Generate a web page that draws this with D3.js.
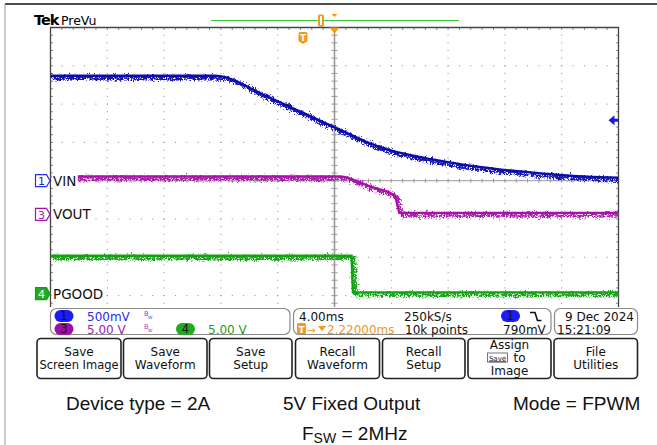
<!DOCTYPE html>
<html>
<head>
<meta charset="utf-8">
<script src="https://cdn.jsdelivr.net/npm/d3@7"></script>
<style>
  html, body { margin: 0; padding: 0; background: #fff; }
  svg { display: block; }
</style>
</head>
<body>
<svg id="scope" width="657" height="445"></svg>
<script>
// ---- acquisition data (time in ms relative to trigger, volts) ----
const ch1Time = [-17.78, -6.2, -5.4, -4.5, -3.0, -1.5, 0, 1.5, 3.0, 4.5, 6.0, 7.5, 9.0, 10.5, 12.0, 14.0, 16.0, 18.0, 20.0, 22.22];
const ch1Volts = [1.37, 1.37, 1.35, 1.28, 1.14, 1.014, 0.885, 0.757, 0.63, 0.505, 0.405, 0.335, 0.28, 0.232, 0.19, 0.145, 0.108, 0.075, 0.052, 0.04];

const ch3Time = [-17.78, 2.6, 3.0, 3.8, 4.7, 5.9, 6.5, 6.65, 6.78, 22.22];
const ch3Volts = [4.95, 4.95, 4.85, 4.35, 3.65, 3.0, 2.45, 1.2, 0.2, 0.2];

const ch4Time = [-17.78, 3.42, 3.52, 22.22];
const ch4Volts = [4.96, 4.96, 0.17, 0.17];

// channel settings
const channelNames = ["VIN", "VOUT", "PGOOD"];
const channelNums = ["1", "3", "4"];
const voltsPerDiv = [0.5, 5.0, 5.0];
const groundDivs = [4.0, 4.88, 6.95];        // ground marker, divisions below top
const channelColors = ["#0c0ca8", "#a812a8", "#14a014"];
const channelHalo = ["#4848d8", "#c850c8", "#48c448"];

// horizontal settings
const timePerDiv = 4.0;       // ms/div
const triggerDelay = 2.22;    // ms, centre of screen after trigger
const triggerLevel = 0.79;    // V on ch1

// readout texts
const readoutRow1 = ["500mV", "4.00ms", "250kS/s", "790mV"];
const readoutRow2 = ["5.00 V", "5.00 V", "2.22000ms", "10k points"];
const dateText = ["9 Dec  2024", "15:21:09"];
const buttonLabels = [["Save", "Screen Image"], ["Save", "Waveform"], ["Save", "Setup"],
                      ["Recall", "Waveform"], ["Recall", "Setup"], ["Assign", "to", "Image"],
                      ["File", "Utilities"]];
const captionTexts = ["Device type = 2A", "5V Fixed Output", "Mode = FPWM"];

// ---- geometry ----
const svg = d3.select("#scope");
const L = 50.5, R = 618.5, T = 27.5;
const divW = (R - L) / 10, divH = 38.3;
const visibleBottom = 307;
const B8 = T + 8 * divH;
const uiFont = "'DejaVu Sans', sans-serif";

const x = d3.scaleLinear()
  .domain([triggerDelay - 5 * timePerDiv, triggerDelay + 5 * timePerDiv])
  .range([L, R]);
const yScales = voltsPerDiv.map((v, i) =>
  d3.scaleLinear().domain([-(8 - groundDivs[i]) * v, groundDivs[i] * v]).range([B8, T]));

const defs = svg.append("defs");
const f = defs.append("filter").attr("id", "jitter")
  .attr("filterUnits", "userSpaceOnUse").attr("x", 0).attr("y", 0)
  .attr("width", 657).attr("height", 445);
f.append("feTurbulence").attr("type", "turbulence").attr("baseFrequency", "0.95 0.4")
  .attr("numOctaves", 2).attr("seed", 7).attr("result", "t");
f.append("feDisplacementMap").attr("in", "SourceGraphic").attr("in2", "t")
  .attr("scale", 9).attr("xChannelSelector", "R").attr("yChannelSelector", "G");
defs.append("clipPath").attr("id", "plotClip").append("rect")
  .attr("x", L).attr("y", T).attr("width", R - L).attr("height", visibleBottom - T);

// outer frame
svg.append("line").attr("x1", 5).attr("x2", 657).attr("y1", 4).attr("y2", 4)
  .attr("stroke", "#111").attr("stroke-width", 1.5);
svg.append("line").attr("x1", 5).attr("x2", 5).attr("y1", 4).attr("y2", 445)
  .attr("stroke", "#999").attr("stroke-width", 1);

// header
svg.append("text").attr("x", 34).attr("y", 25).attr("font-family", uiFont)
  .attr("font-weight", "bold").attr("font-size", 14.5).attr("letter-spacing", -1).text("Tek");
svg.append("text").attr("x", 61).attr("y", 25).attr("font-family", uiFont)
  .attr("font-size", 12.5).text("PreVu");

// record view bar
svg.append("line").attr("x1", 211).attr("x2", 459).attr("y1", 20.5).attr("y2", 20.5)
  .attr("stroke", "#3cc83c").attr("stroke-width", 1.2);
svg.append("rect").attr("x", 318).attr("y", 14.5).attr("width", 6).attr("height", 12)
  .attr("rx", 1.5).attr("fill", "#f39a1a");
svg.append("rect").attr("x", 320).attr("y", 16).attr("width", 2).attr("height", 9).attr("fill", "#fff");
svg.append("path").attr("d", `M${x(triggerDelay) - 3},14 h6 l-3,3 Z`).attr("fill", "#f39a1a");

// ---- graticule ----
const grid = svg.append("g");
const dot = (gx, gy, c = "#8a8a8a") => grid.append("rect").attr("x", gx - 0.5).attr("y", gy - 0.5)
  .attr("width", 1).attr("height", 1).attr("fill", c);
for (let i = 1; i < 10; i++) {
  if (i === 5) continue;
  const gx = L + i * divW;
  for (let k = 1; k <= 40; k++) { const gy = T + k * divH / 5; if (gy < visibleBottom) dot(gx, gy); }
}
for (let j = 1; j < 8; j++) {
  if (j === 4) continue;
  const gy = T + j * divH;
  for (let k = 1; k < 50; k++) dot(L + k * divW / 5, gy);
}
// centre lines
const cx = L + 5 * divW, cy = T + 4 * divH;
grid.append("line").attr("x1", cx).attr("x2", cx).attr("y1", T).attr("y2", visibleBottom)
  .attr("stroke", "#9a9a9a").attr("stroke-width", 1.6);
grid.append("line").attr("x1", L).attr("x2", R).attr("y1", cy).attr("y2", cy)
  .attr("stroke", "#9a9a9a").attr("stroke-width", 1);
for (let k = 1; k < 50; k++) grid.append("line").attr("x1", L + k * divW / 5).attr("x2", L + k * divW / 5)
  .attr("y1", cy - 2).attr("y2", cy + 2).attr("stroke", "#9a9a9a");
for (let k = 1; k < 40; k++) { const gy = T + k * divH / 5; if (gy < visibleBottom)
  grid.append("line").attr("x1", cx - 3).attr("x2", cx + 3).attr("y1", gy).attr("y2", gy).attr("stroke", "#9a9a9a"); }
// border ticks
for (let k = 1; k < 50; k++) {
  const gx = L + k * divW / 5;
  grid.append("line").attr("x1", gx).attr("x2", gx).attr("y1", T).attr("y2", T + 2.5).attr("stroke", "#8a8a8a");
}
for (let k = 1; k < 40; k++) {
  const gy = T + k * divH / 5; if (gy >= visibleBottom) continue;
  grid.append("line").attr("x1", L).attr("x2", L + 2.5).attr("y1", gy).attr("y2", gy).attr("stroke", "#8a8a8a");
  grid.append("line").attr("x1", R - 2.5).attr("x2", R).attr("y1", gy).attr("y2", gy).attr("stroke", "#8a8a8a");
}
// frame
svg.append("path").attr("d", `M${L},${visibleBottom} V${T} H${R} V${visibleBottom}`)
  .attr("fill", "none").attr("stroke", "#444").attr("stroke-width", 1.3);

// ---- traces ----
const traces = svg.append("g").attr("clip-path", "url(#plotClip)");
const series = [[ch1Time, ch1Volts], [ch3Time, ch3Volts], [ch4Time, ch4Volts]];
series.forEach(([ts, vs], i) => {
  const pts = ts.map((t, k) => [x(t), yScales[i](vs[k])]);
  const line = d3.line().curve(d3.curveMonotoneX);
  const d = i === 0 ? line(pts) : d3.line()(pts);
  traces.append("path").attr("d", d).attr("fill", "none")
    .attr("stroke", channelHalo[i]).attr("stroke-width", 4).attr("opacity", 0.9).attr("filter", "url(#jitter)");
  traces.append("path").attr("d", d).attr("fill", "none")
    .attr("stroke", channelColors[i]).attr("stroke-width", 2.6).attr("opacity", 0.9)
    .attr("filter", "url(#jitter)");
  traces.append("path").attr("d", d).attr("fill", "none")
    .attr("stroke", channelColors[i]).attr("stroke-width", 2.4);
});

// trigger position marker and level arrow
const trigX = x(0);
svg.append("rect").attr("x", trigX - 4.5).attr("y", 32).attr("width", 9).attr("height", 10)
  .attr("rx", 1.5).attr("fill", "#f39a1a");
svg.append("path").attr("d", `M${trigX - 4.5},41 h9 l-4.5,3 Z`).attr("fill", "#f39a1a");
svg.append("text").attr("x", trigX).attr("y", 40.5).attr("text-anchor", "middle")
  .attr("font-family", uiFont).attr("font-weight", "bold").attr("font-size", 9).attr("fill", "#fff").text("T");
svg.append("path").attr("d", `M${cx - 5},${T} h10 l-5,6 Z`).attr("fill", "#f39a1a");
const lvY = yScales[0](triggerLevel);
svg.append("path").attr("d", `M${R - 10},${lvY} l6,-5 v3.5 h4 v3 h-4 v3.5 Z`).attr("fill", "#1a1ae0");

// channel ground markers + labels
const markerFill = ["#fff", "#fff", "#22aa22"];
const markerText = ["#2222dd", "#a020a0", "#fff"];
channelNames.forEach((name, i) => {
  const gy = yScales[i](0);
  const bg = svg.append("rect").attr("x", L + 1).attr("y", gy - 7).attr("height", 14).attr("fill", "#fff");
  svg.append("path").attr("d", `M35.5,${gy - 6} h11 l3.5,6 l-3.5,6 h-11 Z`)
    .attr("fill", markerFill[i]).attr("stroke", i === 0 ? "#2b2be0" : channelColors[i]).attr("stroke-width", 1.2);
  svg.append("text").attr("x", 41.5).attr("y", gy + 4.2).attr("text-anchor", "middle")
    .attr("font-family", uiFont).attr("font-size", 11).attr("fill", markerText[i]).text(channelNums[i]);
  const lab = svg.append("text").attr("x", 53).attr("y", gy + 5).attr("font-family", uiFont)
    .attr("font-size", 13.5).attr("fill", "#111").text(name);
  bg.attr("width", 53 + lab.node().getComputedTextLength() + 1.5 - (L + 1));
});

// ---- readout panels ----
const panel = (x0, x1) => svg.append("rect").attr("x", x0).attr("y", 308.5).attr("width", x1 - x0)
  .attr("height", 26).attr("rx", 6).attr("fill", "#fff").attr("stroke", "#8a8a8a").attr("stroke-width", 1.2);
panel(50.5, 290); panel(293.5, 551); panel(554.5, 637.5);

const txt = (tx, ty, s, c = "#111", size = 12, anchor = "start") => svg.append("text")
  .attr("x", tx).attr("y", ty).attr("font-family", uiFont).attr("font-size", size)
  .attr("fill", c).attr("text-anchor", anchor).text(s);
const pill = (px, py, c, s) => {
  svg.append("rect").attr("x", px).attr("y", py - 6).attr("width", 19).attr("height", 12)
    .attr("rx", 6).attr("fill", c);
  txt(px + 9.5, py + 4.3, s, "#111", 11.5, "middle");
};
const r1 = 320.5, r2 = 333.5;
pill(54.5, 316, "#1c1cf5", "1");
txt(87, r1, readoutRow1[0], "#2a2af0");
txt(144, 316, "B", "#4a4af0", 6.5); txt(148, 319, "W", "#4a4af0", 4.5);
pill(54.5, 329, "#a010a0", "3");
txt(87, r2, readoutRow2[0], "#a020b0");
txt(144, 329, "B", "#a040b0", 6.5); txt(148, 332, "W", "#a040b0", 4.5);
pill(176, 329, "#22aa22", "4");
txt(208, r2, readoutRow2[1], "#20a020");

txt(299, r1, readoutRow1[1]);
svg.append("rect").attr("x", 297).attr("y", 323).attr("width", 9).attr("height", 11).attr("rx", 1.5).attr("fill", "#f39a1a");
txt(301.5, 332.5, "T", "#fff", 9, "middle").attr("font-weight", "bold");
txt(307, r2, "→", "#f39a1a", 10.5);
svg.append("path").attr("d", "M318,326 h8 l-4,5 Z").attr("fill", "#f39a1a");
txt(327, r2, readoutRow2[2], "#f39a1a");
txt(404, r1, readoutRow1[2]);
txt(405, r2, readoutRow2[3]);
pill(501, 316, "#1c1cf5", "1");
svg.append("path").attr("d", "M530,312.5 h5 l2.5,8 h4").attr("fill", "none").attr("stroke", "#111").attr("stroke-width", 1.6);
txt(503, r2, readoutRow1[3]);
txt(634, r1, dateText[0], "#111", 12, "end");
txt(557, r2, dateText[1]);

// ---- soft-key buttons ----
const btnX = [[37, 121], [123.5, 207], [209.5, 292], [295.5, 379.5], [382.5, 465], [468, 551], [554, 637.5]];
btnX.forEach(([x0, x1], i) => {
  svg.append("rect").attr("x", x0).attr("y", 338.5).attr("width", x1 - x0).attr("height", 40)
    .attr("rx", 4).attr("fill", "#fff").attr("stroke", "#222").attr("stroke-width", 1.6);
  const lines = buttonLabels[i];
  const mid = (x0 + x1) / 2;
  const fit = (t) => { const w = t.node().getComputedTextLength();
    if (w > x1 - x0 - 5) t.attr("textLength", x1 - x0 - 5).attr("lengthAdjust", "spacingAndGlyphs"); };
  if (lines.length === 2) {
    fit(txt(mid, 356, lines[0], "#111", 12, "middle"));
    fit(txt(mid, 369, lines[1], "#111", 12, "middle"));
  } else {
    txt(mid, 349, lines[0], "#111", 12, "middle");
    svg.append("rect").attr("x", mid - 22).attr("y", 353).attr("width", 20).attr("height", 9)
      .attr("fill", "#fff").attr("stroke", "#555").attr("stroke-width", 0.8);
    txt(mid - 12, 360.5, "Save", "#222", 7, "middle").attr("text-decoration", "underline");
    txt(mid + 10, 362, lines[1], "#111", 12, "middle");
    txt(mid, 375, lines[2], "#111", 12, "middle");
  }
});

// ---- caption ----
const capFont = "'Liberation Sans', Arial, sans-serif";
const cap = (cx0, s) => svg.append("text").attr("x", cx0).attr("y", 410).attr("font-family", capFont)
  .attr("font-size", 19).attr("fill", "#111").text(s);
cap(66, captionTexts[0]); cap(283, captionTexts[1]); cap(513, captionTexts[2]);
const fsw = svg.append("text").attr("x", 302).attr("y", 440).attr("font-family", capFont)
  .attr("font-size", 19).attr("fill", "#111");
fsw.append("tspan").text("F");
fsw.append("tspan").attr("font-size", 14).attr("dy", 3).text("SW");
fsw.append("tspan").attr("dy", -3).text(" = 2MHz");
</script>
</body>
</html>
